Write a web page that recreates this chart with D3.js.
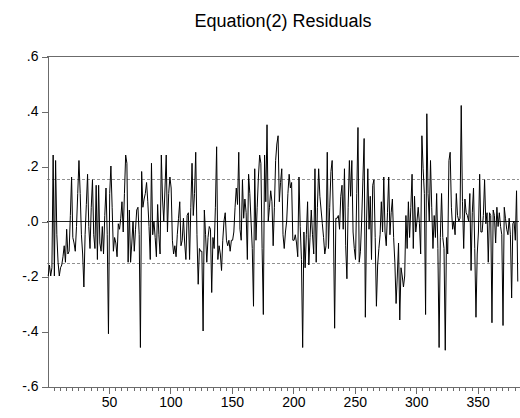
<!DOCTYPE html>
<html><head><meta charset="utf-8">
<script src="https://cdn.jsdelivr.net/npm/d3@7"></script>
<style>html,body{margin:0;padding:0;background:#fff;} svg{display:block;}</style>
</head><body>
<svg id="chart" width="520" height="418"></svg>
<script>
const chartTitle = "Equation(2) Residuals";
const residuals = [
-0.20,-0.16,-0.20,-0.17,0.24,-0.20,0.22,-0.05,-0.15,-0.20,-0.17,-0.16,-0.13,-0.09,-0.15,-0.03,-0.12,-0.11,0.02,0.16,
-0.06,-0.08,-0.11,-0.02,0.10,0.22,0.10,-0.05,-0.12,-0.24,-0.05,0.06,0.17,-0.02,-0.10,0.05,0.15,-0.05,-0.10,0.13,
-0.14,0.13,-0.08,-0.11,-0.02,-0.12,0.02,0.12,-0.05,-0.41,0.10,0.20,0.05,-0.11,-0.06,-0.08,-0.13,-0.01,-0.03,0.01,
0.07,-0.04,0.10,0.24,0.21,-0.15,0.04,-0.15,-0.08,0.00,-0.11,-0.03,0.04,0.05,-0.05,-0.46,0.18,0.05,0.08,0.10,
0.14,0.07,-0.02,-0.14,0.21,-0.05,0.00,-0.06,-0.13,0.06,-0.05,-0.12,0.24,0.08,0.00,0.12,0.24,-0.04,0.10,0.16,
0.12,-0.07,-0.12,-0.09,-0.13,-0.05,0.01,0.07,-0.09,-0.07,0.01,-0.08,-0.14,0.02,0.03,-0.14,0.05,0.21,0.02,0.10,
0.25,-0.05,-0.23,-0.10,-0.11,-0.11,-0.40,0.04,-0.05,-0.15,-0.06,-0.02,-0.03,-0.26,-0.06,-0.10,0.05,0.27,-0.14,-0.09,
-0.12,-0.18,-0.07,0.00,0.03,-0.07,-0.09,-0.07,-0.11,-0.07,-0.07,-0.04,0.05,0.12,0.06,0.25,-0.03,-0.07,0.15,0.01,
0.08,0.03,-0.14,0.17,0.10,0.00,-0.10,-0.31,0.19,-0.07,0.05,0.16,0.24,0.21,-0.10,-0.34,0.24,0.07,0.35,0.00,
0.05,0.11,0.07,-0.09,0.05,0.22,0.28,0.31,0.07,0.14,0.19,-0.05,-0.10,-0.04,0.00,0.10,0.17,0.12,0.14,-0.07,
-0.07,-0.05,-0.08,-0.13,0.16,-0.02,-0.14,-0.46,-0.04,-0.17,-0.05,0.07,-0.16,-0.06,0.04,-0.05,-0.12,0.19,-0.15,0.05,
0.19,0.09,0.04,-0.01,-0.06,-0.12,-0.09,0.25,-0.10,0.05,0.18,0.22,0.00,-0.39,0.01,0.01,0.02,-0.03,0.09,0.13,
-0.03,0.19,-0.09,-0.21,0.05,0.22,0.09,0.22,-0.04,-0.10,-0.14,0.10,0.34,-0.15,-0.11,0.00,0.15,0.30,-0.35,0.00,
0.19,-0.03,0.09,-0.14,0.13,0.15,-0.06,-0.31,-0.16,-0.10,-0.05,0.07,-0.04,0.16,-0.04,-0.09,0.03,0.16,-0.05,0.03,
0.08,-0.06,-0.15,-0.30,-0.20,-0.08,-0.36,-0.17,-0.20,-0.24,-0.20,0.02,-0.10,0.07,-0.06,0.05,0.17,-0.10,0.09,-0.04,
0.00,0.05,-0.01,-0.12,0.31,0.19,0.10,-0.34,0.39,0.10,0.00,0.22,0.05,-0.10,0.02,-0.06,0.10,-0.10,-0.46,-0.06,
0.10,-0.06,-0.10,-0.47,-0.06,-0.12,0.22,0.25,0.05,-0.03,0.00,-0.05,0.10,0.02,0.00,0.01,0.42,0.07,-0.10,0.08,
0.03,0.02,0.00,0.10,-0.18,0.03,0.12,-0.10,-0.35,-0.12,-0.04,0.17,-0.04,-0.04,0.02,0.15,-0.01,0.03,-0.15,0.03,
0.02,-0.37,0.04,0.02,-0.08,0.05,-0.02,0.03,-0.02,-0.05,-0.38,0.05,0.01,-0.03,-0.05,0.01,-0.05,-0.28,-0.01,0.00,
-0.07,0.11,-0.22
];
const yTickValues = [-0.6, -0.4, -0.2, 0, 0.2, 0.4, 0.6];
const yTickLabels = ["-.6", "-.4", "-.2", ".0", ".2", ".4", ".6"];
const xTickValues = [50, 100, 150, 200, 250, 300, 350];
const xTickLabels = ["50", "100", "150", "200", "250", "300", "350"];
const bandLevels = [0.153, -0.153];
const xExtent = [0, 384];
const yExtent = [-0.6, 0.6];

const W = 520, H = 418;
const plot = {left: 47, right: 519, top: 56, bottom: 386};
const svg = d3.select("#chart");
const x = d3.scaleLinear().domain(xExtent).range([plot.left, plot.right]);
const y = d3.scaleLinear().domain(yExtent).range([plot.bottom, plot.top]);
const font = "Arial, 'Liberation Sans', sans-serif";
const axisColor = "#6b6b6b";

// title
svg.append("text").attr("x", (plot.left + plot.right) / 2).attr("y", 27)
  .attr("text-anchor", "middle").attr("font-family", font).attr("font-size", 18)
  .attr("fill", "#000").text(chartTitle);

// top frame line
svg.append("line").attr("x1", plot.left).attr("x2", plot.right)
  .attr("y1", Math.round(y(yExtent[1])) + 0.5).attr("y2", Math.round(y(yExtent[1])) + 0.5)
  .attr("stroke", axisColor).attr("stroke-width", 1);

// dashed bands
svg.selectAll("line.band").data(bandLevels).join("line").attr("class", "band")
  .attr("x1", plot.left).attr("x2", plot.right)
  .attr("y1", d => Math.round(y(d)) + 0.5).attr("y2", d => Math.round(y(d)) + 0.5)
  .attr("stroke", "#909090").attr("stroke-width", 1).attr("stroke-dasharray", "3,2");

// zero line
svg.append("line").attr("x1", plot.left).attr("x2", plot.right)
  .attr("y1", Math.round(y(0)) + 0.5).attr("y2", Math.round(y(0)) + 0.5)
  .attr("stroke", "#222").attr("stroke-width", 1);

// y axis
const yAxis = d3.axisLeft(y).tickValues(yTickValues)
  .tickFormat((d, i) => yTickLabels[i]).tickSize(6).tickSizeOuter(0).tickPadding(3);
const gy = svg.append("g").attr("transform", `translate(${plot.left + 0.5},0.5)`).call(yAxis);
gy.selectAll("path,line").attr("stroke", axisColor).attr("shape-rendering", "crispEdges");
gy.selectAll("text").attr("font-family", font).attr("font-size", 14).attr("fill", "#000");

// x axis: minor ticks
const minorTicks = d3.range(5, xExtent[1], 5).filter(v => !xTickValues.includes(v));
const xMinor = d3.axisBottom(x).tickValues(minorTicks).tickFormat("").tickSize(4).tickSizeOuter(0);
const gxm = svg.append("g").attr("transform", `translate(0.5,${plot.bottom + 0.5})`).call(xMinor);
gxm.selectAll("path,line").attr("stroke", axisColor).attr("shape-rendering", "crispEdges");
const xMajor = d3.axisBottom(x).tickValues(xTickValues)
  .tickFormat((d, i) => xTickLabels[i]).tickSize(7).tickSizeOuter(0).tickPadding(4);
const gx = svg.append("g").attr("transform", `translate(0.5,${plot.bottom + 0.5})`).call(xMajor);
gx.select("path").remove();
gx.selectAll("line").attr("stroke", axisColor).attr("shape-rendering", "crispEdges");
gx.selectAll("text").attr("font-family", font).attr("font-size", 14).attr("fill", "#000");

// residual line
const line = d3.line().x((d, i) => x(i + 1)).y(d => y(d));
svg.append("path").datum(residuals).attr("d", line)
  .attr("fill", "none").attr("stroke", "#000").attr("stroke-width", 1)
  .attr("stroke-linejoin", "miter");
</script>
</body></html>
